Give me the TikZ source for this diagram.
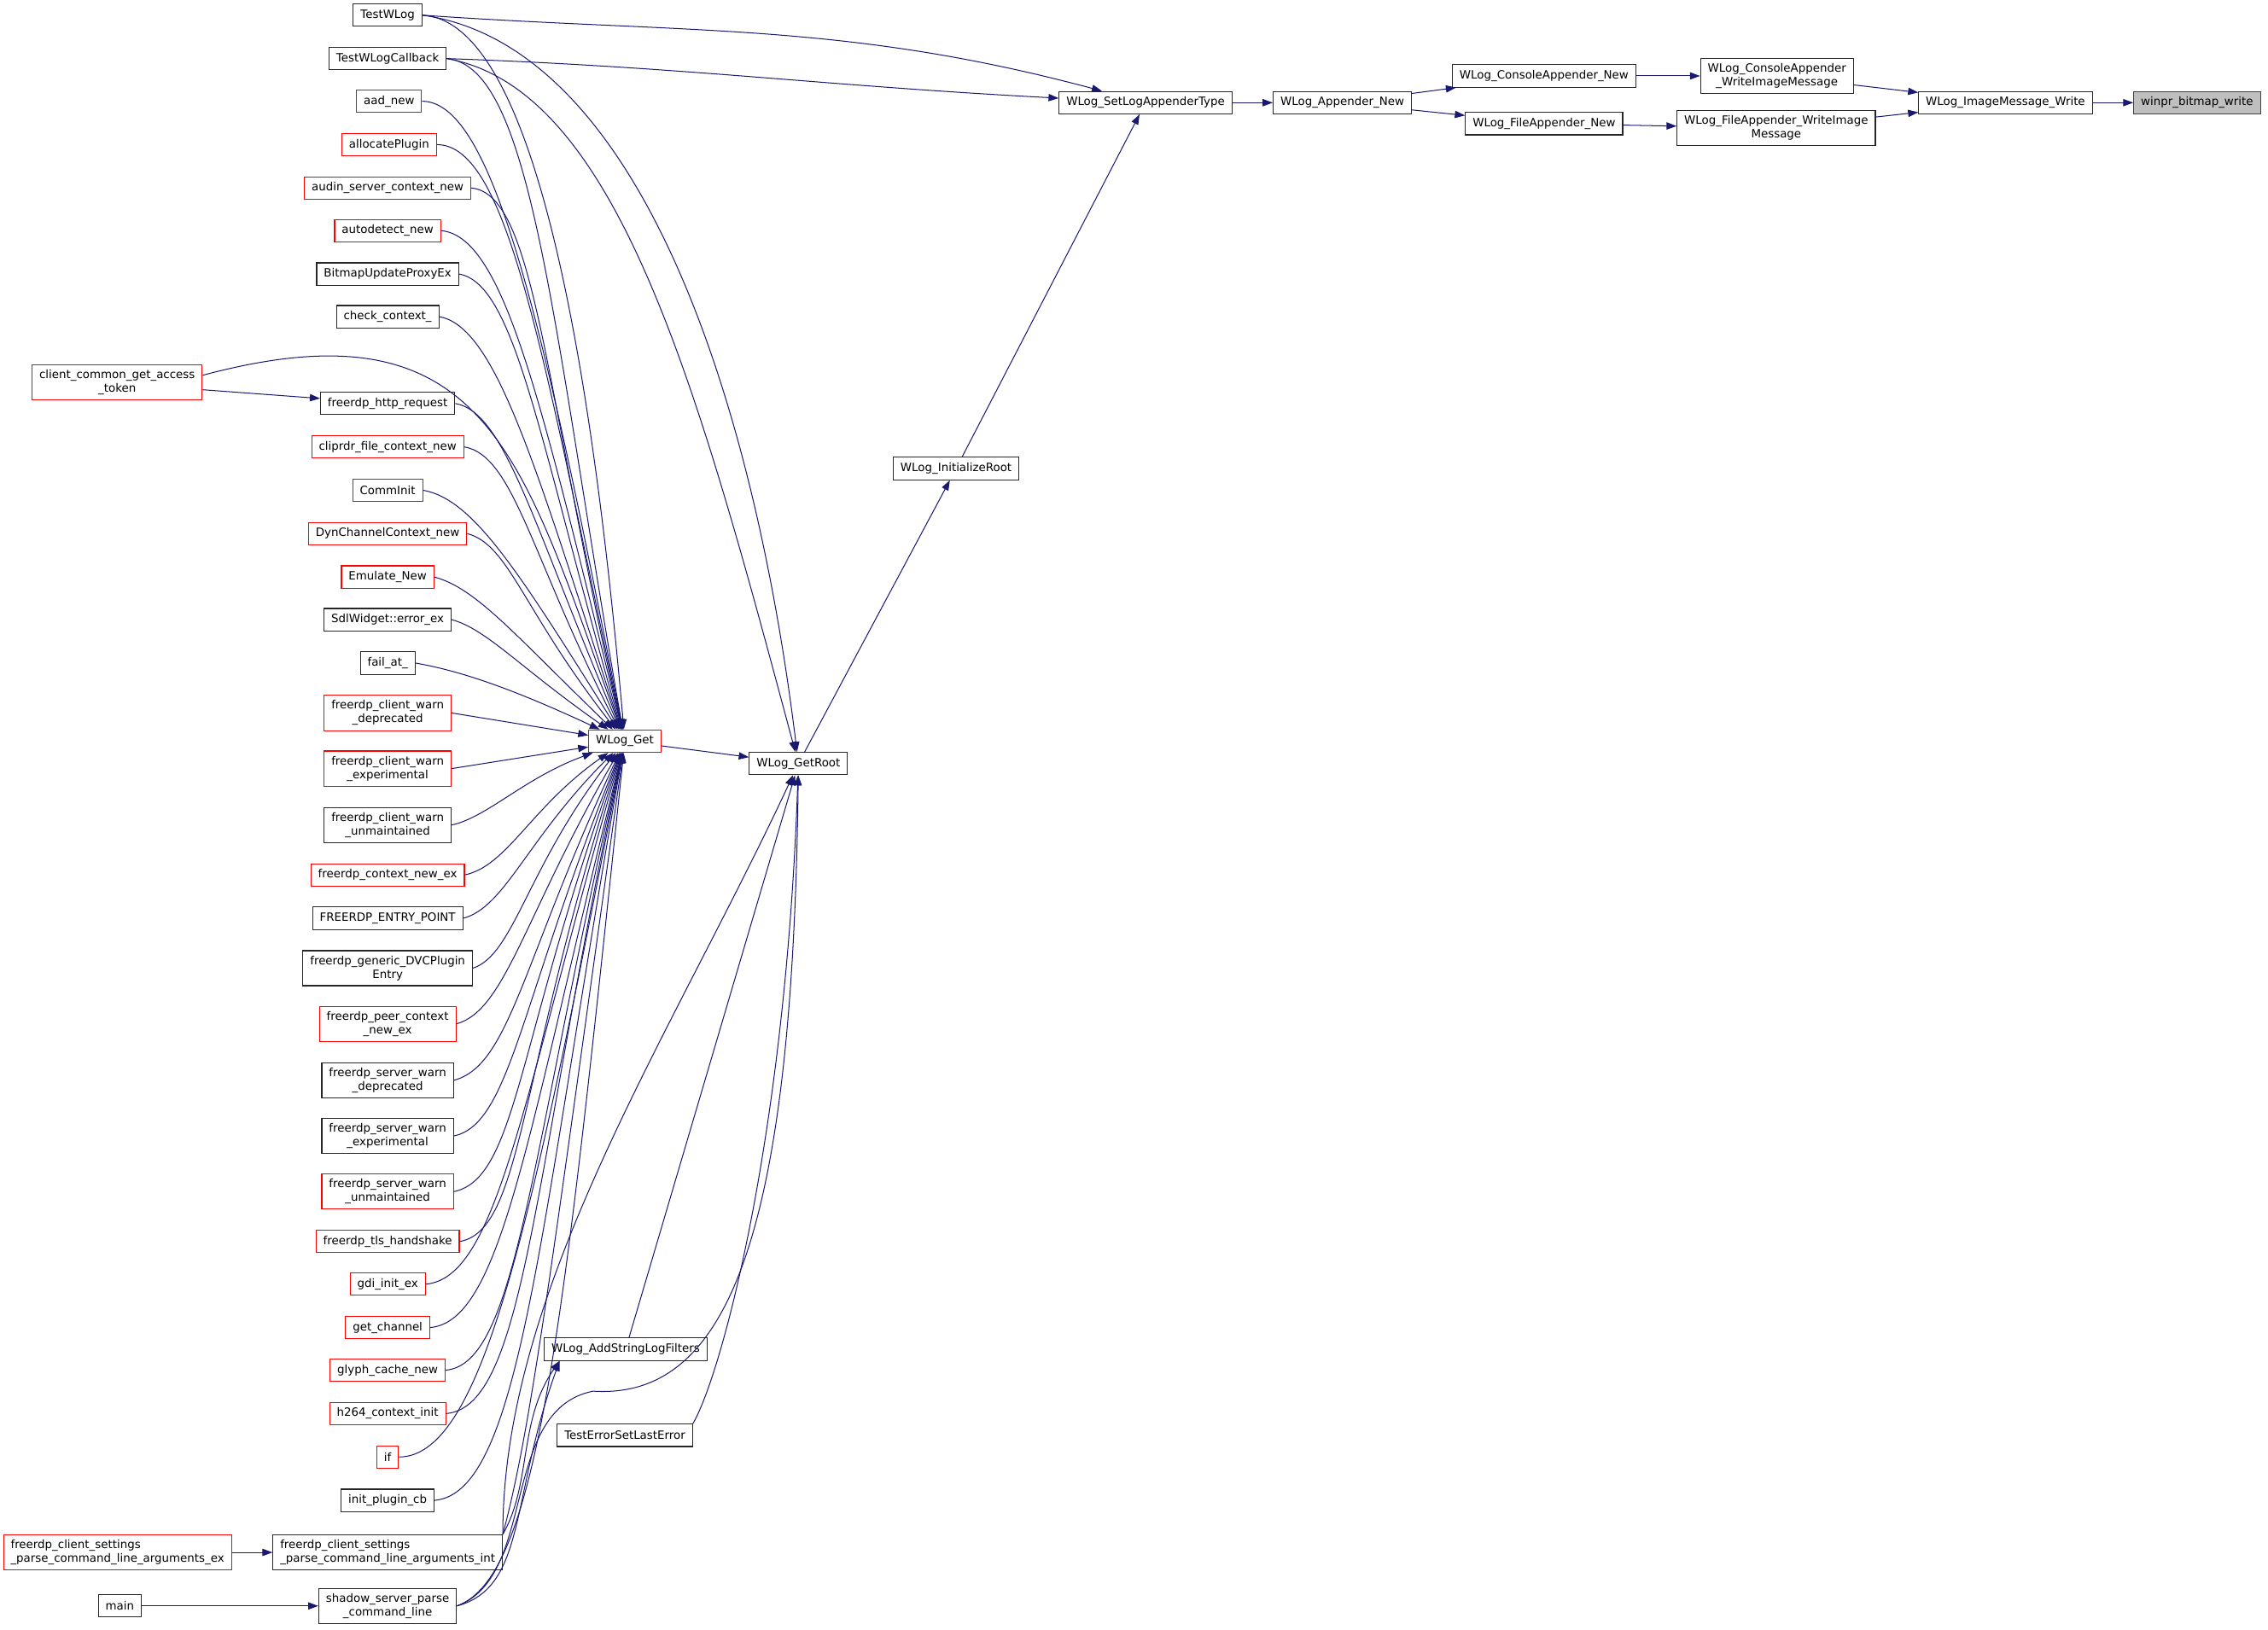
\documentclass[tikz,border=0pt]{standalone}
\usepackage{fontspec}
\setmainfont{DejaVu Sans}
\usepackage{tikz}
\usetikzlibrary{arrows.meta, positioning}
\definecolor{edgeblue}{HTML}{191970}
\definecolor{boxred}{HTML}{FF0000}
\definecolor{rootgray}{HTML}{BFBFBF}

\begin{document}
\begin{tikzpicture}[x=1pt, y=1pt,
	fn/.style={draw=black!85, line width=0.65pt, font=\fontsize{7.9}{9.5}\selectfont,
		inner xsep=5pt, inner ysep=3.5pt, minimum height=15.5pt, align=center},
	trunc/.style={fn, draw=boxred},
	rootfn/.style={fn, fill=rootgray, draw=black!75},
	call/.style={draw=edgeblue, line width=0.6pt, -{Triangle[length=7pt,width=5pt]}}]
	
	\useasboundingbox (0,0) rectangle (1568,-1127);
	
	% --- callers (left column) ---
	\node[fn] (testwlog) at (268,-10.5) {TestWLog};
	\node[fn] (testcb) at (268,-40.5) {TestWLogCallback};
	\node[trunc] (aad) at (269,-70) {aad\_new};
	\node[trunc] (alloc) at (269,-100) {allocatePlugin};
	\node[trunc] (audin) at (268,-130) {audin\_server\_context\_new};
	\node[trunc] (autodet) at (268,-159.5) {autodetect\_new};
	\node[fn] (bitmap) at (268,-189.5) {BitmapUpdateProxyEx};
	\node[fn] (checkctx) at (268,-219) {check\_context\_};
	\node[trunc] (cctoken) at (81,-264.5) {client\_common\_get\_access\\\_token};
	\node[fn] (http) at (268,-279) {freerdp\_http\_request};
	\node[trunc] (cliprdr) at (268,-309) {cliprdr\_file\_context\_new};
	\node[trunc] (comm) at (268,-339) {CommInit};
	\node[trunc] (dynch) at (268,-369) {DynChannelContext\_new};
	\node[trunc] (emul) at (268,-399) {Emulate\_New};
	\node[fn] (sdl) at (268,-428.5) {SdlWidget::error\_ex};
	\node[fn] (failat) at (268,-458.5) {fail\_at\_};
	\node[trunc] (cwdep) at (268,-493) {freerdp\_client\_warn\\\_deprecated};
	\node[trunc] (cwexp) at (268,-531.5) {freerdp\_client\_warn\\\_experimental};
	\node[fn] (cwunm) at (268,-570.5) {freerdp\_client\_warn\\\_unmaintained};
	\node[trunc] (ctxnew) at (268,-605) {freerdp\_context\_new\_ex};
	\node[fn] (entry) at (268,-635) {FREERDP\_ENTRY\_POINT};
	\node[fn] (dvc) at (268,-669.5) {freerdp\_generic\_DVCPlugin\\Entry};
	\node[trunc] (peer) at (268,-708) {freerdp\_peer\_context\\\_new\_ex};
	\node[fn] (swdep) at (268,-747) {freerdp\_server\_warn\\\_deprecated};
	\node[fn] (swexp) at (268,-785.5) {freerdp\_server\_warn\\\_experimental};
	\node[trunc] (swunm) at (268,-824) {freerdp\_server\_warn\\\_unmaintained};
	\node[trunc] (tls) at (268,-858.5) {freerdp\_tls\_handshake};
	\node[trunc] (gdi) at (268,-888) {gdi\_init\_ex};
	\node[trunc] (getch) at (268,-918) {get\_channel};
	\node[trunc] (glyph) at (268,-947.5) {glyph\_cache\_new};
	\node[trunc] (h264) at (268,-977.5) {h264\_context\_init};
	\node[trunc] (ifn) at (268,-1007.5) {if};
	\node[fn] (initcb) at (268,-1037.5) {init\_plugin\_cb};
	\node[fn, align=left] (argsint) at (268,-1073.5) {freerdp\_client\_settings\\\_parse\_command\_line\_arguments\_int};
	\node[trunc, align=left, left=28pt of argsint] (argsex) {freerdp\_client\_settings\\\_parse\_command\_line\_arguments\_ex};
	\node[fn] (shadow) at (268,-1110.5) {shadow\_server\_parse\\\_command\_line};
	\node[fn, left=122pt of shadow] (mainfn) {main};
	
	% --- WLog chain ---
	\node[trunc] (wget) at (432,-512.5) {WLog\_Get};
	\node[fn] (groot) at (552,-528) {WLog\_GetRoot};
	\node[fn] (filters) at (432.5,-933) {WLog\_AddStringLogFilters};
	\node[fn] (testerr) at (432,-992.5) {TestErrorSetLastError};
	\node[fn] (initroot) at (661,-324) {WLog\_InitializeRoot};
	\node[fn] (settype) at (792,-71) {WLog\_SetLogAppenderType};
	\node[fn] (appnew) at (928,-71) {WLog\_Appender\_New};
	\node[fn] (connew) at (1067.5,-52.5) {WLog\_ConsoleAppender\_New};
	\node[fn] (filenew) at (1067.5,-85.5) {WLog\_FileAppender\_New};
	\node[fn] (conwrite) at (1228.5,-52.5) {WLog\_ConsoleAppender\\\_WriteImageMessage};
	\node[fn] (filewrite) at (1228,-88.5) {WLog\_FileAppender\_WriteImage\\Message};
	\node[fn] (imgwrite) at (1386.5,-71) {WLog\_ImageMessage\_Write};
	\node[rootfn, right=28pt of imgwrite] (bmpwrite) {winpr\_bitmap\_write};
	
	% --- straight calls ---
	\draw[call] (imgwrite) -- (bmpwrite);
	\draw[call] (conwrite) -- (imgwrite);
	\draw[call] (filewrite) -- (imgwrite);
	\draw[call] (connew) -- (conwrite);
	\draw[call] (filenew) -- (filewrite);
	\draw[call] (appnew) -- (connew);
	\draw[call] (appnew) -- (filenew);
	\draw[call] (settype) -- (appnew);
	\draw[call] (initroot) -- (settype);
	\draw[call] (groot) -- (initroot);
	\draw[call] (wget) -- (groot);
	\draw[call] (filters) -- (groot);
	\draw[call] ([yshift=-5pt]cctoken.east) -- (http);
	\draw[call] (argsex) -- (argsint);
	\draw[call] (mainfn) -- (shadow);
	\draw[call] (cwdep.east) -- (wget);
	\draw[call] (cwexp.east) -- (wget);
	
	% --- TestWLog callers of the appender type ---
	\draw[call] (testwlog.east) to[out=-4, in=165] (settype);
	\draw[call] (testcb.east) to[out=-2, in=177] (settype);
	
	% --- everything that calls WLog_Get ---
	\draw[call] ([yshift=5pt]cctoken.east) to[out=15, in=110, out distance=205pt, in distance=200pt] (wget);
	\foreach \src/\oa/\ia/\od/\id in {
		testwlog/-3/95/70pt/300pt, testcb/-5/100/60pt/280pt,
		aad/0/101/50pt/280pt, alloc/0/102/50pt/260pt, audin/-5/103/45pt/240pt,
		autodet/-5/104/45pt/225pt, bitmap/-10/106/40pt/205pt, checkctx/-10/108/40pt/190pt,
		http/-10/113/35pt/155pt, cliprdr/-10/117/35pt/135pt, comm/-10/122/35pt/130pt,
		dynch/-15/128/30pt/105pt, emul/-15/136/30pt/95pt, sdl/-15/145/25pt/75pt,
		failat/-10/155/30pt/70pt, cwunm/12/200/25pt/50pt, ctxnew/12/215/30pt/65pt,
		entry/15/225/30pt/85pt, dvc/18/232/30pt/100pt, peer/15/240/35pt/130pt,
		swdep/15/245/40pt/160pt, swexp/12/248/40pt/185pt, swunm/12/250/45pt/210pt,
		tls/10/252/45pt/230pt, gdi/5/254/50pt/250pt, getch/5/256/50pt/270pt,
		glyph/5/257/50pt/285pt, h264/5/258/55pt/300pt, ifn/0/259/60pt/320pt,
		initcb/5/260/60pt/335pt}
	\draw[call] (\src.east) to[out=\oa, in=\ia, out distance=\od, in distance=\id] (wget);
	\draw[call] (argsint.north east) to[out=75, in=262, out distance=80pt, in distance=350pt] (wget);
	\draw[call] (shadow.east) to[out=20, in=264, out distance=60pt, in distance=400pt] (wget);
	
	% --- callers of WLog_GetRoot ---
	\draw[call] (testwlog.east) to[out=-8, in=97, out distance=150pt, in distance=250pt] (groot);
	\draw[call] (testcb.east) to[out=-10, in=105, out distance=120pt, in distance=260pt] (groot);
	\draw[call] (argsint.north east) to[out=90, in=245, out distance=170pt, in distance=200pt] (groot);
	\draw[call] (shadow.east) .. controls (372,-1090) and (345,-975) .. (410,-962)
	.. controls (505,-968) and (548,-850) .. (groot);
	\draw[call] (testerr.north east) to[out=60, in=268, out distance=40pt, in distance=250pt] (groot);
	
	% --- callers of WLog_AddStringLogFilters ---
	\draw[call] (argsint.north east) to[out=60, in=235, out distance=40pt, in distance=50pt] ([xshift=11pt]filters.south west);
	\draw[call] (shadow.east) to[out=15, in=250, out distance=50pt, in distance=100pt] ([xshift=11pt]filters.south west);
	
\end{tikzpicture}
\end{document}
